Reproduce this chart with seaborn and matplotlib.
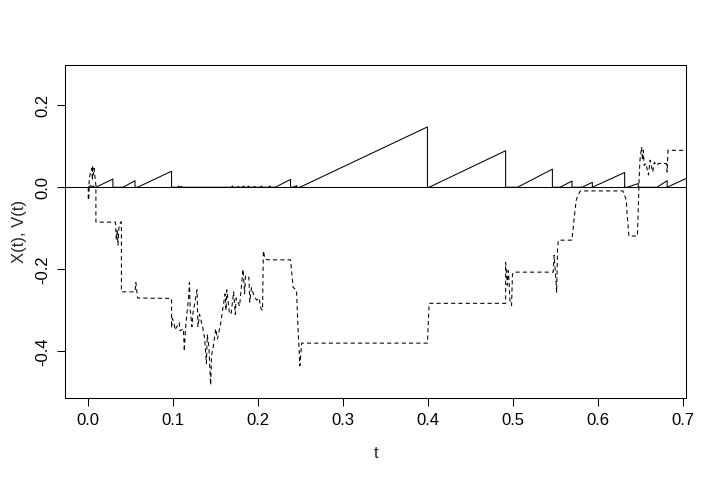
import numpy as np
import pandas as pd
import matplotlib
matplotlib.use("Agg")
import matplotlib.pyplot as plt
import seaborn as sns

# X(t): sawtooth process (solid)
x_t = [0.000, 0.003, 0.004, 0.006, 0.007, 0.009, 0.029, 0.029, 0.041, 0.055, 0.055,
       0.058, 0.098, 0.098, 0.105, 0.107, 0.107, 0.108, 0.110, 0.110, 0.168, 0.170,
       0.170, 0.175, 0.177, 0.177, 0.181, 0.183, 0.183, 0.187, 0.189, 0.189, 0.194,
       0.196, 0.196, 0.202, 0.204, 0.204, 0.212, 0.214, 0.214, 0.220, 0.238, 0.238,
       0.241, 0.245, 0.245, 0.249, 0.399, 0.399, 0.401, 0.491, 0.491, 0.505, 0.546,
       0.546, 0.555, 0.569, 0.569, 0.581, 0.593, 0.593, 0.631, 0.631, 0.634, 0.647,
       0.647, 0.669, 0.681, 0.681, 0.704]
x_v = [0.0, 0.004, 0.0, 0.003, 0.0, 0.0, 0.020, 0.0, 0.0, 0.016, 0.0,
       0.0, 0.039, 0.0, 0.0, 0.003, 0.0, 0.0, 0.002, 0.0, 0.0, 0.003,
       0.0, 0.0, 0.002, 0.0, 0.0, 0.003, 0.0, 0.0, 0.003, 0.0, 0.0,
       0.002, 0.0, 0.0, 0.003, 0.0, 0.0, 0.003, 0.0, 0.0, 0.019, 0.0,
       0.0, 0.004, 0.0, 0.0, 0.147, 0.0, 0.0, 0.089, 0.0, 0.0, 0.044,
       0.0, 0.0, 0.015, 0.0, 0.0, 0.012, 0.0, 0.036, 0.0, 0.0, 0.009,
       0.0, 0.0, 0.016, 0.0, 0.022]

# V(t): step process with noisy stretches (dashed)
v_t = [0.000, 0.000, 0.001, 0.001, 0.002, 0.004, 0.005, 0.005, 0.006, 0.007, 0.008,
       0.009, 0.009, 0.032, 0.033, 0.034, 0.035, 0.036, 0.038, 0.039, 0.039, 0.055,
       0.056, 0.058, 0.096,
       0.098, 0.098, 0.099, 0.101, 0.102, 0.107, 0.108, 0.112, 0.113, 0.114, 0.115,
       0.118, 0.119, 0.120, 0.122, 0.123, 0.128, 0.129, 0.131, 0.135, 0.137, 0.139,
       0.140, 0.142, 0.143, 0.144, 0.145, 0.147, 0.150, 0.152, 0.156, 0.158, 0.161,
       0.162, 0.163, 0.166, 0.168, 0.171, 0.173, 0.174, 0.178, 0.182, 0.184, 0.185,
       0.189, 0.190, 0.192, 0.195, 0.198, 0.201, 0.203, 0.205, 0.206, 0.208,
       0.212, 0.238,
       0.241, 0.245, 0.247, 0.249, 0.251, 0.399, 0.401, 0.491, 0.491, 0.493, 0.494,
       0.495, 0.496, 0.498, 0.499, 0.500, 0.547, 0.548, 0.549, 0.551, 0.552, 0.553,
       0.569, 0.572, 0.574, 0.576, 0.579, 0.629, 0.633, 0.634, 0.636, 0.646, 0.647,
       0.648, 0.649, 0.651, 0.652, 0.653, 0.654, 0.656, 0.659, 0.661, 0.664, 0.666,
       0.668, 0.671, 0.680, 0.681, 0.682, 0.704]
v_v = [0.000, -0.032, -0.020, 0.017, 0.030, 0.046, 0.017, 0.053, 0.030, 0.046, 0.022,
       0.005, -0.085, -0.085, -0.129, -0.105, -0.141, -0.100, -0.085, -0.085, -0.255, -0.255,
       -0.232, -0.270, -0.271,
       -0.271, -0.343, -0.320, -0.330, -0.348, -0.330, -0.350, -0.345, -0.400, -0.360, -0.330,
       -0.270, -0.232, -0.300, -0.340, -0.310, -0.250, -0.340, -0.310, -0.345, -0.370, -0.430,
       -0.360, -0.390, -0.440, -0.482, -0.410, -0.390, -0.345, -0.370, -0.330, -0.300, -0.260,
       -0.300, -0.250, -0.305, -0.310, -0.255, -0.310, -0.270, -0.290, -0.200, -0.260, -0.215,
       -0.220, -0.280, -0.245, -0.265, -0.275, -0.270, -0.295, -0.300, -0.155, -0.175,
       -0.177, -0.177,
       -0.244, -0.251, -0.356, -0.435, -0.380, -0.380, -0.283, -0.283, -0.183, -0.239, -0.203,
       -0.227, -0.276, -0.288, -0.214, -0.207, -0.207, -0.166, -0.191, -0.256, -0.154, -0.129,
       -0.129, -0.068, -0.032, -0.020, -0.009, -0.009, -0.032, -0.068, -0.119, -0.119, -0.056,
       0.017, 0.066, 0.098, 0.066, 0.090, 0.053, 0.058, 0.030, 0.066, 0.037, 0.061,
       0.053, 0.058, 0.058, 0.037, 0.090, 0.090]

x_ticks = [0.0, 0.1, 0.2, 0.3, 0.4, 0.5, 0.6, 0.7]
y_ticks = [-0.4, -0.2, 0.0, 0.2]

df_x = pd.DataFrame({"t": x_t, "value": x_v})
df_v = pd.DataFrame({"t": v_t, "value": v_v})

sns.set_style("ticks")
plt.rcParams["font.family"] = ["Liberation Sans", "DejaVu Sans"]
plt.rcParams["font.size"] = 12

fig = plt.figure(figsize=(7.2, 4.8), dpi=100)
ax = fig.add_axes([0.0907, 0.1715, 0.8621, 0.6931])

sns.lineplot(data=df_x, x="t", y="value", sort=False, estimator=None,
             color="black", lw=0.75, ax=ax)
sns.lineplot(data=df_v, x="t", y="value", sort=False, estimator=None,
             color="black", lw=0.75, linestyle=(0, (4, 3)), ax=ax)
ax.axhline(0, color="black", lw=0.75)

ax.set_xlim(-0.027, 0.7032)
ax.set_ylim(-0.513, 0.298)
ax.set_xticks(x_ticks)
ax.set_xticklabels([f"{v:.1f}" for v in x_ticks])
ax.set_yticks(y_ticks)
ax.set_yticklabels([f"{v:.1f}" for v in y_ticks], rotation=90, va="center")

for s in ax.spines.values():
    s.set_visible(True)
    s.set_linewidth(0.75)
    s.set_color("black")
ax.tick_params(direction="out", length=5.8, width=0.75, pad=5,
               colors="black", labelsize=12)

ax.set_xlabel("t", fontsize=12, labelpad=13.5)
ax.set_ylabel("X(t), V(t)", fontsize=12, labelpad=6)

fig.savefig("out.png", dpi=100)
